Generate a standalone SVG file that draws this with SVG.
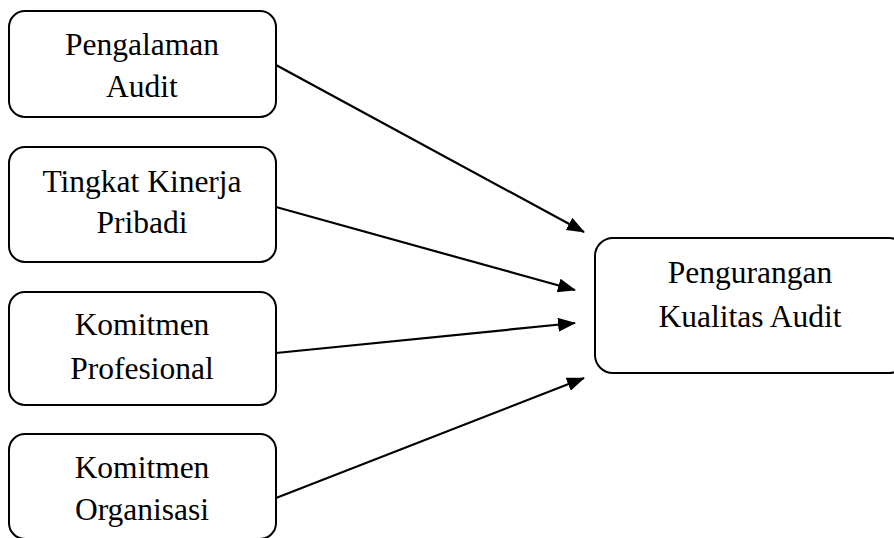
<svg xmlns="http://www.w3.org/2000/svg" width="894" height="538" viewBox="0 0 894 538">
<style>
.box{fill:#fff;stroke:#000;stroke-width:2}
.lbl{font-family:"Liberation Serif","Times New Roman",serif;font-size:31.5px;fill:#000;text-anchor:middle}
.edge{stroke:#000;stroke-width:2.2;fill:none}
</style>
<defs>
<marker id="ah" markerUnits="userSpaceOnUse" markerWidth="18" markerHeight="14" viewBox="0 0 18 14" refX="17" refY="7" orient="auto">
<path d="M0,0 L18,7 L0,14 Z" fill="#000"/>
</marker>
</defs>
<rect width="894" height="538" fill="#fff"/>
<g id="n1"><rect class="box" x="9" y="11" width="267" height="106" rx="16"/>
<text class="lbl" x="142" y="55">Pengalaman</text><text class="lbl" x="142" y="97">Audit</text></g>
<g id="n2"><rect class="box" x="9" y="147" width="267" height="115" rx="16"/>
<text class="lbl" x="142" y="192">Tingkat Kinerja</text><text class="lbl" x="142" y="233">Pribadi</text></g>
<g id="n3"><rect class="box" x="9" y="292" width="267" height="113" rx="16"/>
<text class="lbl" x="142" y="335">Komitmen</text><text class="lbl" x="142" y="379">Profesional</text></g>
<g id="n4"><rect class="box" x="9" y="434" width="267" height="105" rx="16"/>
<text class="lbl" x="142" y="478">Komitmen</text><text class="lbl" x="142" y="520">Organisasi</text></g>
<g id="n5"><rect class="box" x="595" y="238" width="312" height="135" rx="18"/>
<text class="lbl" x="750" y="283">Pengurangan</text><text class="lbl" x="750" y="327">Kualitas Audit</text></g>
<g id="edges">
<line class="edge" x1="276" y1="65" x2="584" y2="232" marker-end="url(#ah)"/>
<line class="edge" x1="276" y1="207" x2="575" y2="290" marker-end="url(#ah)"/>
<line class="edge" x1="276" y1="353" x2="575" y2="323" marker-end="url(#ah)"/>
<line class="edge" x1="276" y1="498" x2="584" y2="378" marker-end="url(#ah)"/>
</g>
</svg>
